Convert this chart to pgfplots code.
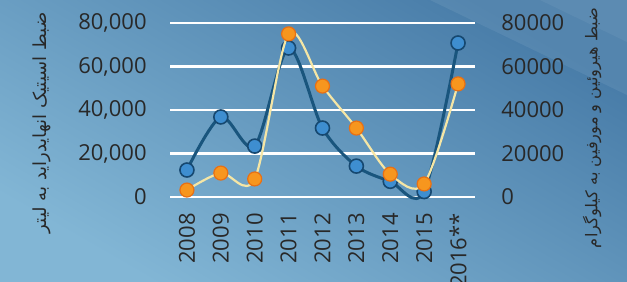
\documentclass[border=0pt]{standalone}
\usepackage{pgfplots}
\pgfplotsset{compat=1.18}
\usepackage{fontspec}
\setmainfont{Open Sans}
\newfontfamily\arabicfont[Script=Arabic]{DejaVu Sans}
\TeXXeTstate=1
\definecolor{bgtop}{RGB}{72,124,168}
\definecolor{bgbot}{RGB}{130,182,213}
\definecolor{tickc}{RGB}{40,40,40}
\definecolor{blueline}{RGB}{25,85,125}
\definecolor{bluemark}{RGB}{62,142,208}
\definecolor{bluedraw}{RGB}{22,72,112}
\definecolor{oline}{RGB}{245,230,165}
\definecolor{omark}{RGB}{247,150,30}
\definecolor{odraw}{RGB}{232,112,20}
\pgfplotsset{
  common/.style={
    at={(85pt,42.5pt)}, anchor=south west,
    width=152.5pt, height=87pt, scale only axis,
    xmin=-0.5, xmax=8.5, ymin=0, ymax=80000,
    axis line style={draw=none}, tick style={draw=none},
    ytick={0,20000,40000,60000,80000},
    scaled y ticks=false,
    tick label style={font=\fontsize{11}{13}\selectfont, text=tickc},
    /pgf/number format/assume math mode=true,
    clip=false,
  }
}
\begin{document}
\begin{tikzpicture}
\begin{scope}[x=0.5pt,y=0.5pt]
\shade[top color=bgtop,bottom color=bgbot,shading angle=-30] (0,0) rectangle (627,282);
\fill[white,opacity=0.07] (430,282) -- (627,282) -- (627,187) -- cycle;
\fill[white,opacity=0.05] (540,282) -- (627,282) -- (627,240) -- cycle;
\end{scope}
\begin{axis}[common,
  ymajorgrids, grid style={white, line width=1.1pt},
  xtick={0,...,8},
  xticklabels={2008,2009,2010,2011,2012,2013,2014,2015,2016**},
  xticklabel style={rotate=90, anchor=east, inner sep=0pt},
  xticklabel shift=8pt,
  yticklabel style={anchor=east, inner sep=0pt},
  yticklabel shift=11.5pt,
  /pgf/number format/1000 sep={,},
]
\addplot[blueline, line width=1.5pt, smooth, tension=0.5, mark=*, mark size=3.5pt,
  mark options={fill=bluemark, draw=bluedraw, line width=0.8pt}]
  coordinates {(0,12400) (1,36800) (2,23400) (3,68500) (4,31700) (5,14200) (6,7200) (7,2500) (8,70800)};
\end{axis}
\begin{axis}[common,
  axis y line*=right, axis x line=none,
  xtick=\empty,
  yticklabel style={anchor=west, inner sep=0pt},
  yticklabel shift=13pt,
  /pgf/number format/1000 sep={},
]
\addplot[oline, line width=1.1pt, smooth, tension=0.5, mark=*, mark size=3.5pt,
  mark options={fill=omark, draw=odraw, line width=0.6pt}]
  coordinates {(0,3200) (1,11000) (2,8300) (3,75000) (4,51000) (5,31700) (6,10500) (7,6000) (8,52000)};
\end{axis}
\node[rotate=90, font=\arabicfont\fontsize{9}{11}\selectfont, text=tickc] at (21pt,79.5pt) {\beginR ضبط اسیتیک انهایدراید به لیتر\endR};
\node[rotate=90, font=\arabicfont\fontsize{8.1}{10}\selectfont, text=tickc] at (296pt,77pt) {\beginR ضبط هیروئین و مورفین به کیلوگرام\endR};
\pgfresetboundingbox
\path[use as bounding box] (0pt,0pt) rectangle (313.5pt,141pt);
\end{tikzpicture}
\end{document}
